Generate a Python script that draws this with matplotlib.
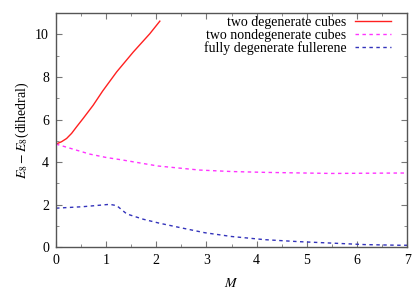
import numpy as np
import matplotlib
matplotlib.use('Agg')
import matplotlib.pyplot as plt
from matplotlib.ticker import MultipleLocator

plt.rcParams['font.family'] = 'serif'
plt.rcParams['font.serif'] = ['Liberation Serif', 'DejaVu Serif']
plt.rcParams['mathtext.fontset'] = 'stix'

# two degenerate cubes
m_deg = [0.0, 0.11, 0.21, 0.31, 0.41, 0.54, 0.74, 0.93, 1.21, 1.54, 1.87, 2.07]
e_deg = [4.85, 4.96, 5.11, 5.35, 5.66, 6.05, 6.67, 7.34, 8.24, 9.17, 10.03, 10.62]

# two nondegenerate cubes
m_nondeg = [0.0, 0.67, 1.0, 1.33, 2.03, 2.86, 3.5, 4.18, 5.5, 6.84, 7.0]
e_nondeg = [4.85, 4.38, 4.22, 4.1, 3.82, 3.63, 3.56, 3.52, 3.47, 3.49, 3.49]

# fully degenerate fullerene
m_full = [0.0, 0.54, 1.07, 1.21, 1.41, 1.74, 2.07, 2.53, 2.96, 3.5, 4.17, 4.83, 5.5, 6.16, 6.84, 7.0]
e_full = [1.84, 1.91, 2.02, 1.96, 1.57, 1.32, 1.13, 0.9, 0.69, 0.51, 0.36, 0.27, 0.2, 0.13, 0.1, 0.1]

fig = plt.figure(figsize=(4.15, 2.9), dpi=100)
ax = fig.add_axes([0.135, 0.147, 0.846, 0.808])

ax.plot(m_deg, e_deg, color='#ff2020', lw=1.0, label='two degenerate cubes')
ax.plot(m_nondeg, e_nondeg, color='#ff33ff', lw=1.0, dashes=(2.5, 2.5),
        label='two nondegenerate cubes')
ax.plot(m_full, e_full, color='#3333bb', lw=1.0, dashes=(2.5, 2.5),
        label='fully degenerate fullerene')

ax.set_xlim(0, 7)
ax.set_ylim(0, 11)
ax.xaxis.set_major_locator(MultipleLocator(1))
ax.xaxis.set_minor_locator(MultipleLocator(0.5))
ax.yaxis.set_major_locator(MultipleLocator(2))
ax.yaxis.set_minor_locator(MultipleLocator(1))
ax.tick_params(which='both', direction='in', top=True, right=True,
               labelsize=10, color='#777777')
ax.tick_params(which='major', length=4, pad=5)
ax.tick_params(which='minor', length=2.5)
for s in ax.spines.values():
    s.set_color('#555555')
    s.set_linewidth(1.0)

ax.set_xlabel('$M$', fontsize=10, labelpad=7)
ax.set_ylabel('$E_8 - E_8$(dihedral)', fontsize=10, labelpad=3)

ax.legend(loc='upper right', bbox_to_anchor=(0.97, 1.013), frameon=False,
          markerfirst=False, fontsize=10, handlelength=2.6, labelspacing=0.0,
          borderaxespad=0.0, handletextpad=0.6)

fig.savefig('out.png', dpi=100)
